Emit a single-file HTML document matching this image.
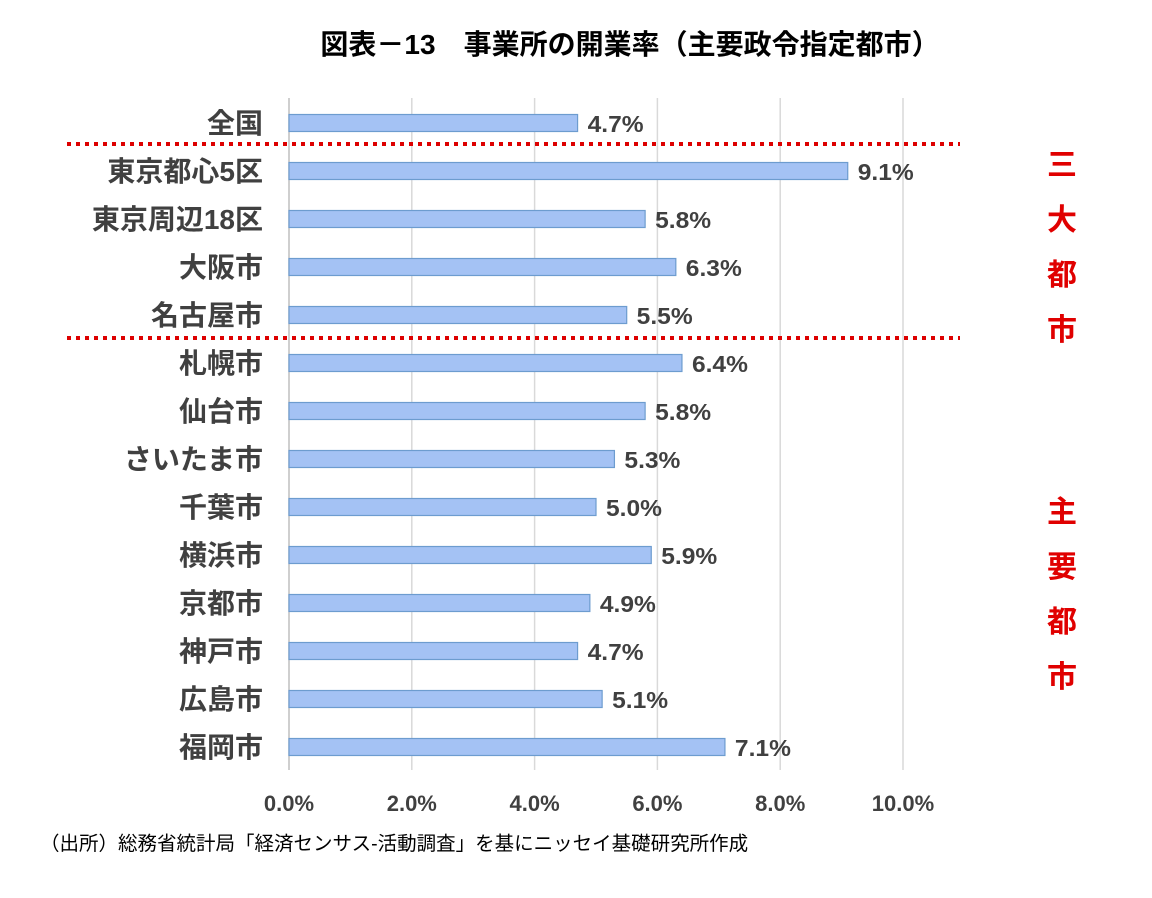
<!DOCTYPE html>
<html><head><meta charset="utf-8"><style>
body{margin:0;background:#fff;width:1152px;height:893px;overflow:hidden;font-family:"Liberation Sans","Noto Sans CJK JP",sans-serif}
</style></head><body>
<svg id="c" width="1152" height="893" xmlns="http://www.w3.org/2000/svg">
<text x="630" y="54" text-anchor="middle" font-size="28" font-weight="bold" fill="#000" font-family="Liberation Sans,Noto Sans CJK JP,sans-serif">図表－13　事業所の開業率（主要政令指定都市）</text>
<g id="grid"></g><g id="bars"></g>
<line x1="67" y1="144" x2="960" y2="144" stroke="#d00" stroke-width="4" stroke-dasharray="4,5"/>
<line x1="67" y1="338" x2="960" y2="338" stroke="#d00" stroke-width="4" stroke-dasharray="4,5"/>
<g font-size="30" fill="#e00000" text-anchor="middle" font-weight="bold" font-family="Liberation Sans,Noto Sans CJK JP,sans-serif">
<text x="1062" y="175">三</text><text x="1062" y="230">大</text><text x="1062" y="285">都</text><text x="1062" y="340">市</text></g>
<g font-size="30" fill="#e00000" text-anchor="middle" font-weight="bold" font-family="Liberation Sans,Noto Sans CJK JP,sans-serif">
<text x="1062" y="522">主</text><text x="1062" y="577">要</text><text x="1062" y="632">都</text><text x="1062" y="687">市</text></g>
<text x="40" y="850" font-size="19.5" fill="#000" font-family="Liberation Sans,Noto Sans CJK JP,sans-serif">（出所）総務省統計局「経済センサス-活動調査」を基にニッセイ基礎研究所作成</text>
</svg>
<script>
const categories=["全国","東京都心5区","東京周辺18区","大阪市","名古屋市","札幌市","仙台市","さいたま市","千葉市","横浜市","京都市","神戸市","広島市","福岡市"];
const values=[4.7,9.1,5.8,6.3,5.5,6.4,5.8,5.3,5.0,5.9,4.9,4.7,5.1,7.1];
const ticks=[0,2,4,6,8,10];
const NS="http://www.w3.org/2000/svg";
const x=v=>289+v*61.4;
const y=i=>123+i*48;
const g=document.getElementById('grid'),b=document.getElementById('bars');
function mk(t,a,p){const e=document.createElementNS(NS,t);for(const k in a)e.setAttribute(k,a[k]);p.appendChild(e);return e;}
ticks.forEach(t=>{
 const l=mk('line',{x1:x(t),x2:x(t),y1:98,y2:770,stroke:t===0?'#bfbfbf':'#d9d9d9','stroke-width':1.5},g);
 
 
 const tx=mk('text',{x:x(t),y:811,'text-anchor':'middle','font-size':22,'font-weight':'bold',fill:'#404040'},g);
 tx.textContent=t.toFixed(1)+'%';
 
 
});
categories.forEach((c,i)=>{
 const r=mk('rect',{x:x(0),y:y(i)-8.5,width:x(values[i])-x(0),height:17,fill:'#a4c2f4',stroke:'#6d9ccf','stroke-width':1.2},b);
 
 
 const lb=mk('text',{x:263,y:y(i)+10,'text-anchor':'end','font-size':28,'font-weight':'bold',fill:'#404040'},b);
 lb.textContent=c;
 
 
 const v=mk('text',{x:x(values[i])+10,y:y(i)+9,'font-size':23,'font-weight':'bold',fill:'#404040',textLength:56,lengthAdjust:'spacingAndGlyphs'},b);
 v.textContent=values[i].toFixed(1)+'%';
 
 
});
</script>
</body></html>
